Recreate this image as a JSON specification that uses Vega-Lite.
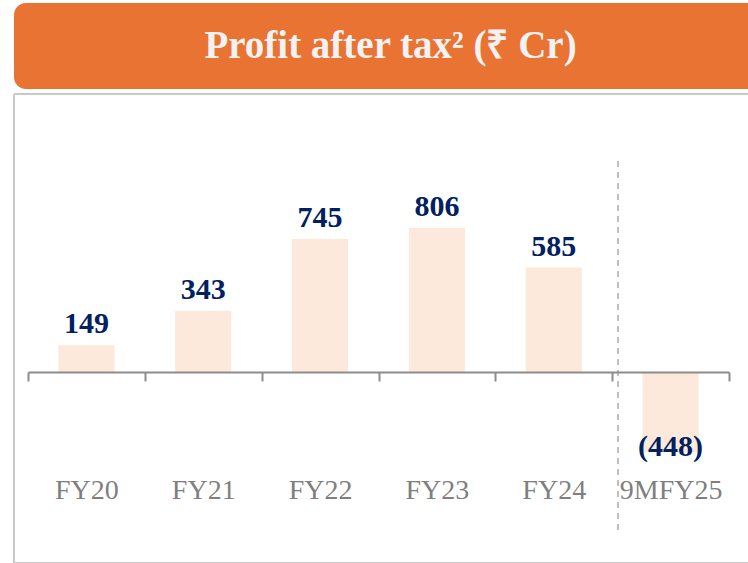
{
  "$schema": "https://vega.github.io/schema/vega-lite/v6.json",
  "padding": {"left": 13, "top": 3, "right": 0, "bottom": 0},
  "spacing": 4,
  "background": "white",
  "config": {"view": {"stroke": null}},
  "vconcat": [
    {
      "width": 735,
      "height": 86,
      "data": {"values": [{"title": "Profit after tax² (₹ Cr)"}]},
      "layer": [
        {
          "mark": {"type": "rect", "color": "#E97333", "cornerRadiusTopLeft": 12, "cornerRadiusBottomLeft": 12},
          "encoding": {}
        },
        {
          "mark": {"type": "text", "font": "Liberation Serif", "fontWeight": "bold", "fontSize": 39, "color": "#F2F2F2", "baseline": "alphabetic", "align": "center", "dx": 9, "dy": 12},
          "encoding": {"text": {"field": "title"}}
        }
      ]
    },
    {
      "width": 735,
      "height": 469,
      "view": {"stroke": "#C9C9C9", "strokeWidth": 2, "strokeDash": [735, 469, 1204, 0]},
      "data": {"values": [
        {"period": "FY20", "value": 149},
        {"period": "FY21", "value": 343},
        {"period": "FY22", "value": 745},
        {"period": "FY23", "value": 806},
        {"period": "FY24", "value": 585},
        {"period": "9MFY25", "value": -448}
      ]},
      "encoding": {
        "x": {
          "field": "period",
          "type": "nominal",
          "sort": null,
          "scale": {"domain": ["FY20", "FY21", "FY22", "FY23", "FY24", "9MFY25"], "range": [14, 715], "paddingInner": 0, "paddingOuter": 0},
          "axis": {
            "orient": "bottom", "offset": -191, "title": null, "tickBand": "extent",
            "tickSize": 9, "tickWidth": 2, "tickColor": "#8C8C8C",
            "domainColor": "#8C8C8C", "domainWidth": 2,
            "labelFont": "Liberation Serif", "labelFontSize": 28, "labelColor": "#7F7F7F",
            "labelPadding": 117, "labelBaseline": "alphabetic", "labelAngle": 0,
            "grid": false, "zindex": 1
          }
        }
      },
      "layer": [
        {
          "mark": {"type": "bar", "color": "#FCE9DB", "width": {"band": 0.48}},
          "encoding": {
            "y": {"field": "value", "type": "quantitative", "scale": {"domain": [-1070, 1557], "nice": false, "zero": false}, "axis": null}
          }
        },
        {
          "transform": [{"filter": "datum.value >= 0"}],
          "mark": {"type": "text", "font": "Liberation Serif", "fontWeight": "bold", "fontSize": 30, "color": "#002060", "baseline": "alphabetic", "align": "center", "dy": -12},
          "encoding": {
            "y": {"field": "value", "type": "quantitative"},
            "text": {"field": "value", "type": "quantitative", "format": "(d"}
          }
        },
        {
          "transform": [{"filter": "datum.value < 0"}],
          "mark": {"type": "text", "font": "Liberation Serif", "fontWeight": "bold", "fontSize": 30, "color": "#002060", "baseline": "alphabetic", "align": "center", "dy": 4},
          "encoding": {
            "y": {"field": "value", "type": "quantitative"},
            "text": {"field": "value", "type": "quantitative", "format": "(d"}
          }
        },
        {
          "data": {"values": [{"sep": "9MFY25"}]},
          "mark": {"type": "rule", "color": "#BFBFBF", "strokeWidth": 2, "strokeDash": [6, 5]},
          "encoding": {
            "x": {"field": "sep", "type": "nominal", "bandPosition": 0.05},
            "y": {"datum": 1182},
            "y2": {"datum": -902}
          }
        }
      ]
    }
  ]
}
